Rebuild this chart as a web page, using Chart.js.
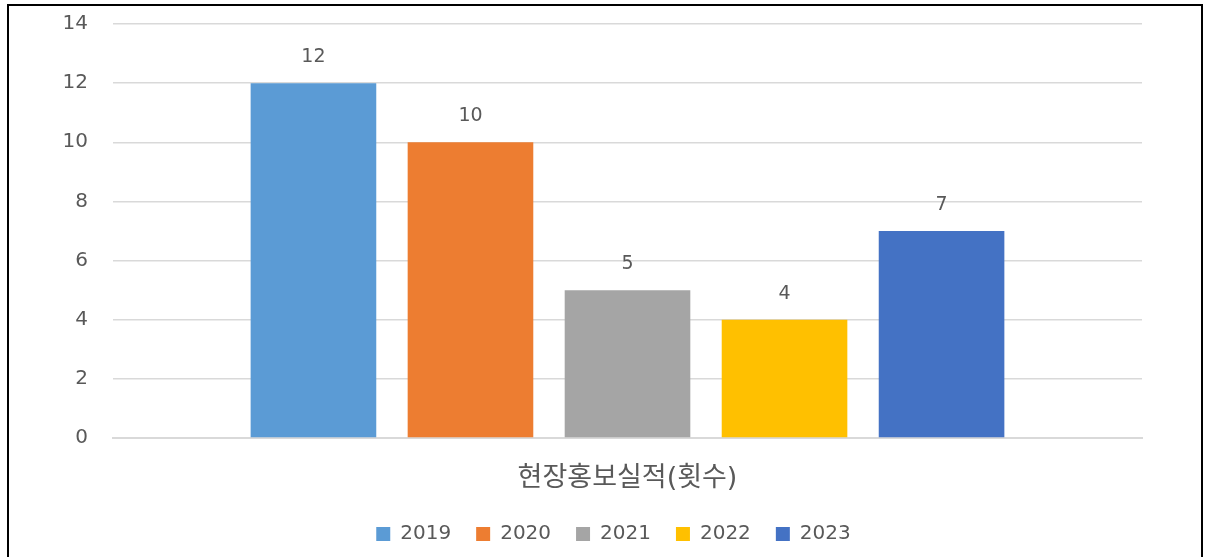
<!DOCTYPE html>
<html>
<head>
<meta charset="utf-8">
<script src="https://cdn.jsdelivr.net/npm/chart.js@4"></script>
<style>
  html, body { margin: 0; padding: 0; background: #fff; }
  #wrap { position: relative; width: 1207px; height: 557px; }
</style>
</head>
<body>
<div id="wrap"><canvas id="barChart" width="1207" height="557"></canvas></div>
<script>
const categories = ['현장홍보실적(횟수)'];
const years = ['2019', '2020', '2021', '2022', '2023'];
const counts = [12, 10, 5, 4, 7];
const colors = ['#5B9BD5', '#ED7D31', '#A5A5A5', '#FFC000', '#4472C4'];
const yTicks = [0, 2, 4, 6, 8, 10, 12, 14];

const FONT = "'DejaVu Sans', 'Noto Sans CJK KR', sans-serif";
const TEXT = '#595959';

const frame = {
    id: 'frame',
    afterDraw(chart) {
        const {ctx} = chart;
        ctx.save();
        ctx.strokeStyle = '#000';
        ctx.lineWidth = 2;
        ctx.strokeRect(8, 5, 1194, 560);
        ctx.restore();
    }
};

const valueLabels = {
    id: 'valueLabels',
    afterDatasetsDraw(chart) {
        const {ctx} = chart;
        ctx.save();
        ctx.font = '19px ' + FONT;
        ctx.fillStyle = TEXT;
        ctx.textAlign = 'center';
        ctx.textBaseline = 'middle';
        chart.data.datasets.forEach((ds, i) => {
            chart.getDatasetMeta(i).data.forEach((bar, j) => {
                ctx.fillText(ds.data[j], bar.x, bar.y - 26);
            });
        });
        ctx.restore();
    }
};

new Chart(document.getElementById('barChart'), {
    type: 'bar',
    data: {
        labels: categories,
        datasets: years.map((y, i) => ({
            label: y,
            data: [counts[i]],
            backgroundColor: colors[i],
            categoryPercentage: 0.763,
            barPercentage: 0.8
        }))
    },
    options: {
        responsive: false,
        animation: false,
        layout: { padding: { left: 30, right: 10, top: 24, bottom: 3 } },
        plugins: {
            tooltip: { enabled: false },
            legend: {
                position: 'bottom',
                labels: {
                    boxWidth: 14,
                    boxHeight: 14,
                    padding: 25,
                    color: TEXT,
                    font: { family: FONT, size: 20 }
                }
            }
        },
        scales: {
            x: {
                grid: { display: false },
                border: { color: '#d9d9d9', width: 2 },
                ticks: { color: TEXT, font: { family: FONT, size: 27 }, padding: 17 },
                afterFit(scale) { scale.height = 61; }
            },
            y: {
                min: 0,
                max: 14,
                afterBuildTicks(scale) { scale.ticks = yTicks.map(v => ({value: v})); },
                grid: { color: '#d9d9d9', lineWidth: 1.5, tickLength: 25, tickColor: 'rgba(0,0,0,0)' },
                border: { display: false },
                ticks: { color: TEXT, font: { family: FONT, size: 20 }, padding: 0 },
                afterFit(scale) { scale.width = 83; }
            },
            spacer: {
                type: 'linear',
                position: 'right',
                grid: { display: false },
                border: { display: false },
                ticks: { display: false },
                afterFit(scale) { scale.width = 55; }
            }
        }
    },
    plugins: [frame, valueLabels]
});
</script>
</body>
</html>
